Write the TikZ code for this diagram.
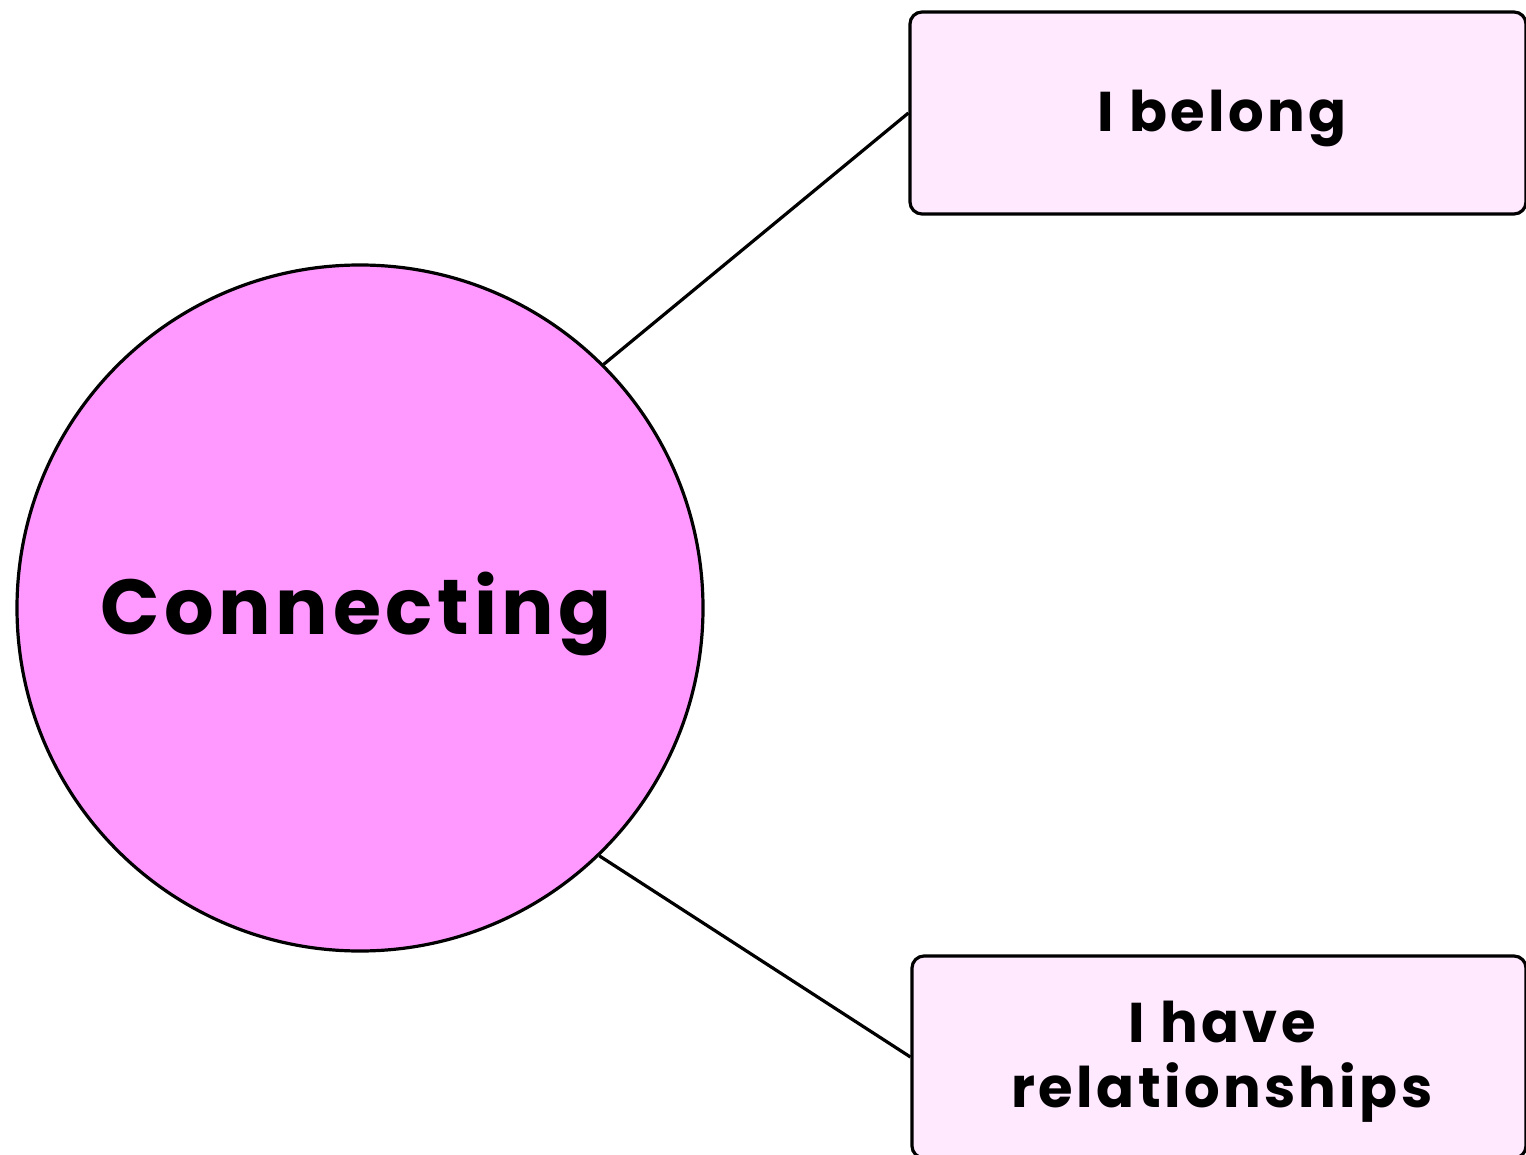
\documentclass[tikz,border=0pt]{standalone}
\usepackage{fontspec}
\setmainfont{Poppins}[UprightFont=* SemiBold, BoldFont=* Bold]
\newfontfamily\popb{Poppins}[UprightFont=* Bold, LetterSpace=6]
\definecolor{circfill}{HTML}{FF99FF}
\definecolor{boxfill}{HTML}{FFE9FF}
\begin{document}
\begin{tikzpicture}[x=1pt,y=-1pt,
  hub/.style={circle, draw=black, line width=3.2pt, fill=circfill, minimum size=686pt, inner sep=0pt},
  leaf/.style={rectangle, rounded corners=12pt, draw=black, line width=3.2pt, fill=boxfill, inner sep=0pt},
  conn/.style={draw=black, line width=3.2pt},
  bigtxt/.style={font=\popb\fontsize{78}{86}\selectfont},
  boxtxt/.style={font=\popb\fontsize{56}{65}\selectfont, align=center}]
\useasboundingbox (0,0) rectangle (1526,1155);
\node[hub] (c) at (360,608) {};
\node[bigtxt] (ct) at (356,614) {Connecting};
\node[leaf, minimum width=616pt, minimum height=202pt] (b1) at (1218,113) {};
\node[boxtxt] (t1) at (1222,118) {I belong};
\node[leaf, minimum width=614pt, minimum height=202pt] (b2) at (1219,1057) {};
\node[boxtxt] (t2) at (1222,1062) {I have\\relationships};
\draw[conn] (c.45) -- (b1.west);
\draw[conn] (c.-46) -- (b2.west);
\end{tikzpicture}
\end{document}
